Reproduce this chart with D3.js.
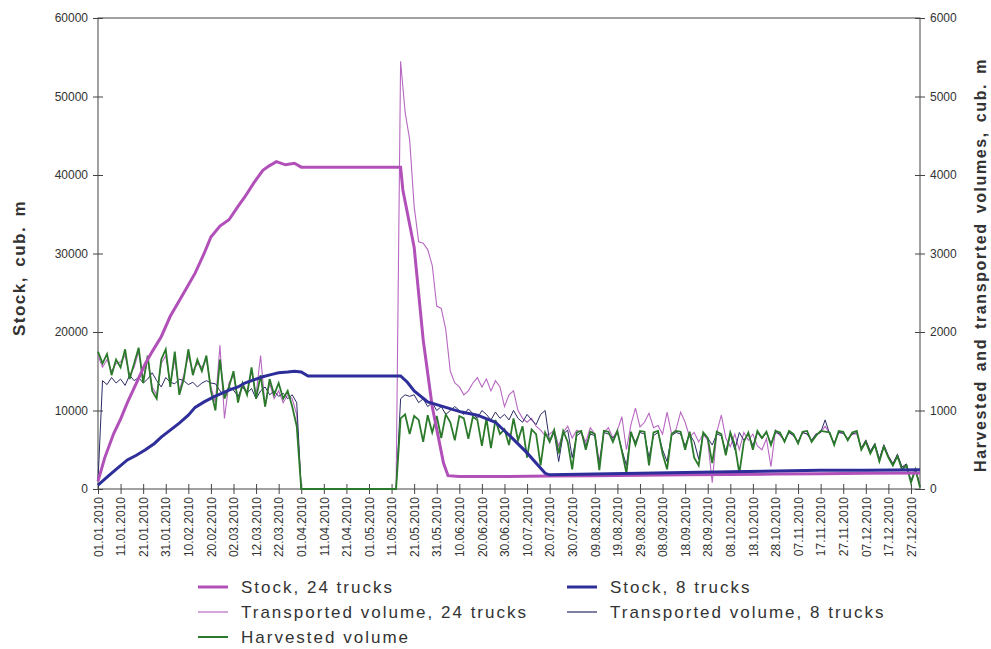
<!DOCTYPE html>
<html>
<head>
<meta charset="utf-8">
<script src="https://cdn.jsdelivr.net/npm/d3@7"></script>
<style>
  body { margin: 0; background: #fff; }
  svg text { font-family: "Liberation Sans", Arial, sans-serif; fill: #333; }
</style>
</head>
<body>
<svg id="chart"></svg>
<script>
// daily volumes every 2 days, starting 01.01.2010
const STEP = 2;
const startDate = new Date(2010, 0, 1);

const harvested = [
  1750,1600,1720,1450,1650,1550,1780,1400,1600,1800,
  1350,1700,1250,1150,1650,1780,1300,1750,1200,1400,
  1780,1450,1650,1500,1700,1250,1000,1650,1150,1300,
  1500,1100,1350,1200,1550,1150,1450,1050,1400,1200,
  1350,1150,1250,1050,800,0,0,0,0,0,
  0,0,0,0,0,0,0,0,0,0,
  0,0,0,0,0,0,0,900,950,700,
  930,880,600,940,720,930,650,950,850,620,
  930,900,640,920,880,550,900,520,880,700,
  760,560,900,620,800,400,760,700,300,720,
  600,750,450,740,600,250,720,740,500,730,
  700,240,740,730,600,740,480,200,730,560,
  740,730,300,720,740,450,250,700,740,730,
  500,730,400,300,720,650,330,730,700,430,
  720,560,200,600,720,500,740,650,730,560,
  740,720,600,740,700,580,730,740,600,680,
  740,730,720,560,740,730,620,720,740,500,
  600,450,560,350,540,400,300,420,250,300,
  80,250,20
];

const transported24 = [
  1700,1550,1650,1500,1600,1620,1700,1450,1550,1750,
  1400,1650,1300,1200,1600,1700,1350,1650,1250,1450,
  1700,1500,1600,1550,1650,1300,1100,1830,900,1350,
  1450,1150,1300,1250,1500,1200,1700,1050,1350,1150,
  1250,1100,1200,1150,950,0,0,0,0,0,
  0,0,0,0,0,0,0,0,0,0,
  0,0,0,0,0,0,0,5450,4800,4450,
  3600,3150,3130,3050,2850,2330,2300,2030,1500,1350,
  1300,1200,1250,1350,1420,1300,1400,1250,1380,1300,
  1050,1200,1250,1000,900,850,900,800,750,680,
  700,750,550,720,800,650,750,720,600,780,
  700,350,720,780,650,750,920,500,820,1030,
  790,850,966,780,810,700,980,700,760,980,
  850,660,720,600,700,620,80,720,940,650,
  540,700,500,720,620,700,550,500,640,285,
  750,680,620,720,680,600,720,700,620,700,
  720,800,700,580,720,710,640,700,700,520,
  620,480,560,380,560,420,320,440,280,300,
  100,240,30
];

const transported8 = [
  100,1380,1330,1420,1350,1400,1320,1450,1380,1420,
  1350,1400,1480,1380,1300,1420,1360,1340,1400,1380,
  1330,1360,1300,1350,1380,1350,1340,1250,1200,1300,
  1260,1180,1300,1220,1280,1150,1250,1300,1200,1250,
  1180,1220,1150,1200,1100,0,0,0,0,0,
  0,0,0,0,0,0,0,0,0,0,
  0,0,0,0,0,0,0,1150,1200,1180,
  1200,1100,1150,1050,1100,1000,1050,950,1000,1050,
  1000,950,1020,960,900,1000,950,880,980,900,
  950,880,1000,900,850,950,880,820,950,1000,
  600,720,350,700,750,400,680,720,550,700,
  680,300,720,700,650,720,500,300,700,600,
  720,700,400,680,720,500,350,680,720,700,
  550,700,600,380,700,650,560,700,680,480,
  700,500,720,620,700,550,720,640,720,580,
  720,700,620,720,680,600,720,700,620,700,
  720,880,700,580,720,710,640,700,720,520,
  620,480,580,380,560,420,320,440,280,320,
  100,260,40
];

// stock levels (left axis), day of year -> cub. m
const stock24Days = [0,3,7,10,13,17,21,24,28,32,37,40,43,47,50,54,58,62,65,69,73,76,79,83,87,90,134,135,140,144,148,153,155,160,180,200,220,240,260,280,300,320,340,364];
const stock24 = [1000,4000,7100,8900,11000,13500,16000,17500,19400,22000,24500,26000,27500,30000,32100,33500,34300,36000,37200,39000,40600,41200,41700,41300,41500,41000,41000,38100,30800,19000,10500,3300,1700,1600,1600,1650,1700,1750,1800,1850,1900,1950,2000,2050];

const stock8Days = [0,4,8,13,17,21,25,28,32,36,40,43,47,51,55,58,62,65,69,73,77,80,84,87,90,93,134,137,140,146,154,161,168,176,183,190,198,200,220,240,260,280,300,320,340,364];
const stock8 = [500,1500,2500,3700,4300,5000,5800,6600,7500,8400,9400,10400,11100,11700,12200,12600,13000,13500,13900,14300,14600,14800,14900,15000,14900,14400,14400,13600,12500,11100,10400,9800,9400,8500,6600,4600,2000,1800,1900,2000,2100,2200,2300,2400,2400,2450];

const leftTicks = [0,10000,20000,30000,40000,50000,60000];
const rightTicks = [0,1000,2000,3000,4000,5000,6000];
const tickDays = d3.range(0, 365, 10);

const colors = {
  stock24: "#b150b8",
  trans24: "#b868c2",
  stock8: "#2e2e9a",
  trans8: "#2b2b66",
  harvested: "#2b7a2b"
};

const W = 991, H = 649;
const svg = d3.select("#chart").attr("width", W).attr("height", H);

const x = d3.scaleTime()
  .domain([startDate, d3.timeDay.offset(startDate, 364)])
  .range([98, 920]);
const yL = d3.scaleLinear().domain([0, 60000]).range([489, 18]);
const yR = d3.scaleLinear().domain([0, 6000]).range([489, 18]);

const dayDate = d => d3.timeDay.offset(startDate, d);

// frame
svg.append("rect")
  .attr("x", 98).attr("y", 18).attr("width", 822).attr("height", 471)
  .attr("fill", "none").attr("stroke", "#444").attr("stroke-width", 1);

// axes
const gL = svg.append("g").attr("transform", "translate(98,0)")
  .call(d3.axisLeft(yL).tickValues(leftTicks).tickSize(5).tickPadding(5).tickFormat(d3.format("d")));
const gR = svg.append("g").attr("transform", "translate(920,0)")
  .call(d3.axisRight(yR).tickValues(rightTicks).tickSize(5).tickPadding(5).tickFormat(d3.format("d")));
const gX = svg.append("g").attr("transform", "translate(0,489)")
  .call(d3.axisBottom(x).tickValues(tickDays.map(dayDate)).tickSize(5).tickFormat(d3.timeFormat("%d.%m.%Y")));

[gL, gR, gX].forEach(g => {
  g.select(".domain").remove();
  g.selectAll(".tick line").attr("stroke", "#444");
  g.selectAll(".tick text").style("font-size", "12px").attr("fill", "#333");
});
gL.selectAll(".tick").append("line").attr("x2", 5).attr("stroke", "#444");
gR.selectAll(".tick").append("line").attr("x2", -5).attr("stroke", "#444");
gX.selectAll(".tick").append("line").attr("y2", -5).attr("stroke", "#444");
gX.selectAll(".tick text")
  .attr("transform", "rotate(-90)")
  .attr("x", -8).attr("y", 0).attr("dy", "0.35em")
  .style("text-anchor", "end");

// lines
const volLine = d3.line().x((d, i) => x(dayDate(i * STEP))).y(d => yR(d));
const stockLine = days => d3.line().x((d, i) => x(dayDate(days[i]))).y(d => yL(d));

const plot = svg.append("g");
plot.append("path").datum(transported24).attr("d", volLine)
  .attr("fill", "none").attr("stroke", colors.trans24).attr("stroke-width", 1.1);
plot.append("path").datum(transported8).attr("d", volLine)
  .attr("fill", "none").attr("stroke", colors.trans8).attr("stroke-width", 1);
plot.append("path").datum(harvested).attr("d", volLine)
  .attr("fill", "none").attr("stroke", colors.harvested).attr("stroke-width", 1.8);
plot.append("path").datum(stock24).attr("d", stockLine(stock24Days))
  .attr("fill", "none").attr("stroke", colors.stock24).attr("stroke-width", 3);
plot.append("path").datum(stock8).attr("d", stockLine(stock8Days))
  .attr("fill", "none").attr("stroke", colors.stock8).attr("stroke-width", 3);

// axis titles
svg.append("text")
  .attr("transform", "translate(19,268) rotate(-90)")
  .attr("text-anchor", "middle").attr("dominant-baseline", "central")
  .style("font-size", "17px").style("font-weight", "bold")
  .style("letter-spacing", "1.5px").style("word-spacing", "3px")
  .attr("fill", "#111")
  .text("Stock, cub. m");
svg.append("text")
  .attr("transform", "translate(980,265) rotate(-90)")
  .attr("text-anchor", "middle").attr("dominant-baseline", "central")
  .style("font-size", "16px").style("font-weight", "bold")
  .style("letter-spacing", "1.6px").style("word-spacing", "3px")
  .attr("fill", "#111")
  .text("Harvested and transported volumes, cub. m");

// legend
const legendItems = [
  { label: "Stock, 24 trucks", color: colors.stock24, w: 3, x: 198, y: 587 },
  { label: "Transported volume, 24 trucks", color: colors.trans24, w: 1.2, x: 198, y: 612 },
  { label: "Harvested volume", color: colors.harvested, w: 2, x: 198, y: 637 },
  { label: "Stock, 8 trucks", color: colors.stock8, w: 3, x: 567, y: 587 },
  { label: "Transported volume, 8 trucks", color: colors.trans8, w: 1.2, x: 567, y: 612 }
];
const leg = svg.append("g").selectAll("g").data(legendItems).join("g")
  .attr("transform", d => `translate(${d.x},${d.y})`);
leg.append("line").attr("x1", 0).attr("x2", 30)
  .attr("stroke", d => d.color).attr("stroke-width", d => d.w);
leg.append("text").attr("x", 43).attr("dy", "0.35em")
  .style("font-size", "17px").style("letter-spacing", "2px")
  .attr("fill", "#222")
  .text(d => d.label);
</script>
</body>
</html>
